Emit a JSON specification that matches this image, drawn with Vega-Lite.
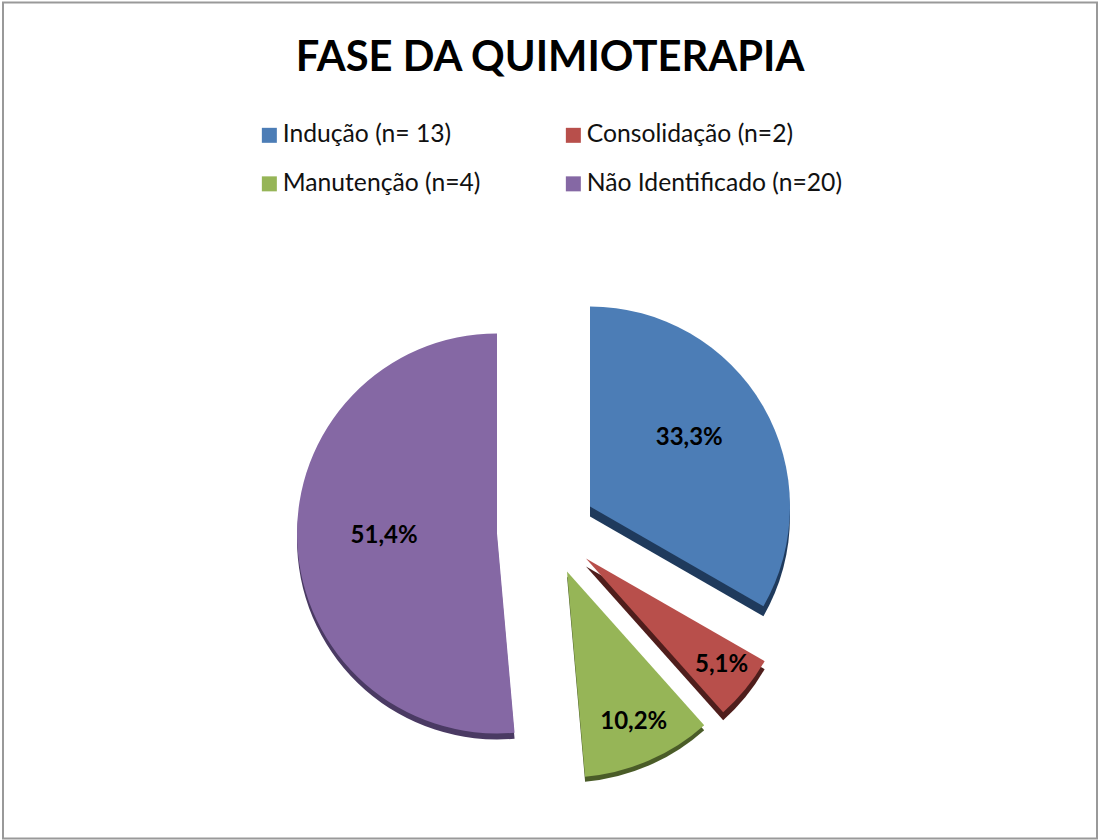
{"$schema":"https://vega.github.io/schema/vega-lite/v6.json","width":1094,"height":836,"autosize":"none","padding":{"left":3,"top":2.5,"right":1,"bottom":1.5},"background":"white","view":{"stroke":"#999999","strokeWidth":2},"config":{"view":{"stroke":"#999999","strokeWidth":2},"font":"Lato"},"title":{"text":"FASE DA QUIMIOTERAPIA","font":"Lato","fontSize":41.7,"fontWeight":"bold","color":"#000000","anchor":"middle","offset":-119,"baseline":"bottom"},"data":{"values":[{"fase":"Indução (n= 13)","pct":33.3,"rotulo":"33,3%"},{"fase":"Consolidação (n=2)","pct":5.1,"rotulo":"5,1%"},{"fase":"Manutenção (n=4)","pct":10.2,"rotulo":"10,2%"},{"fase":"Não Identificado (n=20)","pct":51.4,"rotulo":"51,4%"}]},"transform":[{"window":[{"op":"sum","field":"pct","as":"fim"}],"frame":[null,0]},{"calculate":"datum.fim-datum.pct","as":"inicio"},{"calculate":"(datum.fim+datum.inicio)/2","as":"meio"}],"layer":[{"transform":[{"filter":"datum.pct==33.3"}],"mark":{"type":"arc","radius":200,"xOffset":40,"yOffset":96,"fill":"#1F3A5C"},"encoding":{"theta":{"field":"inicio","type":"quantitative","scale":{"domain":[0,100]}},"theta2":{"field":"fim"}}},{"transform":[{"filter":"datum.pct==5.1"}],"mark":{"type":"arc","radius":206,"xOffset":36,"yOffset":146,"fill":"#4F1E1C"},"encoding":{"theta":{"field":"inicio","type":"quantitative","scale":{"domain":[0,100]}},"theta2":{"field":"fim"}}},{"transform":[{"filter":"datum.pct==10.2"}],"mark":{"type":"arc","radius":206,"xOffset":17,"yOffset":156,"fill":"#4A5C28"},"encoding":{"theta":{"field":"inicio","type":"quantitative","scale":{"domain":[0,100]}},"theta2":{"field":"fim"}}},{"transform":[{"filter":"datum.pct==51.4"}],"mark":{"type":"arc","radius":200,"xOffset":-53,"yOffset":119,"fill":"#4A3A63"},"encoding":{"theta":{"field":"inicio","type":"quantitative","scale":{"domain":[0,100]}},"theta2":{"field":"fim"}}},{"transform":[{"filter":"datum.pct==33.3"}],"mark":{"type":"arc","radius":200,"xOffset":40,"yOffset":86},"encoding":{"theta":{"field":"inicio","type":"quantitative","scale":{"domain":[0,100]}},"theta2":{"field":"fim"},"color":{"field":"fase","type":"nominal","sort":null,"scale":{"domain":["Indução (n= 13)","Consolidação (n=2)","Manutenção (n=4)","Não Identificado (n=20)"],"range":["#4C7DB6","#B84F4B","#96B557","#8568A4"]},"legend":{"title":null,"orient":"none","direction":"horizontal","legendX":254,"legendY":120,"columns":2,"columnPadding":80,"rowPadding":23,"symbolType":"square","symbolSize":225,"symbolStrokeWidth":0,"labelFont":"Lato","labelFontSize":24.7,"labelColor":"#111111","labelOffset":1,"labelLimit":400}}}},{"transform":[{"filter":"datum.pct==5.1"}],"mark":{"type":"arc","radius":206,"xOffset":36,"yOffset":138},"encoding":{"theta":{"field":"inicio","type":"quantitative","scale":{"domain":[0,100]}},"theta2":{"field":"fim"},"color":{"field":"fase","type":"nominal","sort":null,"scale":{"domain":["Indução (n= 13)","Consolidação (n=2)","Manutenção (n=4)","Não Identificado (n=20)"],"range":["#4C7DB6","#B84F4B","#96B557","#8568A4"]},"legend":{"title":null,"orient":"none","direction":"horizontal","legendX":254,"legendY":120,"columns":2,"columnPadding":80,"rowPadding":23,"symbolType":"square","symbolSize":225,"symbolStrokeWidth":0,"labelFont":"Lato","labelFontSize":24.7,"labelColor":"#111111","labelOffset":1,"labelLimit":400}}}},{"transform":[{"filter":"datum.pct==10.2"}],"mark":{"type":"arc","radius":206,"xOffset":17,"yOffset":151},"encoding":{"theta":{"field":"inicio","type":"quantitative","scale":{"domain":[0,100]}},"theta2":{"field":"fim"},"color":{"field":"fase","type":"nominal","sort":null,"scale":{"domain":["Indução (n= 13)","Consolidação (n=2)","Manutenção (n=4)","Não Identificado (n=20)"],"range":["#4C7DB6","#B84F4B","#96B557","#8568A4"]},"legend":{"title":null,"orient":"none","direction":"horizontal","legendX":254,"legendY":120,"columns":2,"columnPadding":80,"rowPadding":23,"symbolType":"square","symbolSize":225,"symbolStrokeWidth":0,"labelFont":"Lato","labelFontSize":24.7,"labelColor":"#111111","labelOffset":1,"labelLimit":400}}}},{"transform":[{"filter":"datum.pct==51.4"}],"mark":{"type":"arc","radius":200,"xOffset":-53,"yOffset":113},"encoding":{"theta":{"field":"inicio","type":"quantitative","scale":{"domain":[0,100]}},"theta2":{"field":"fim"},"color":{"field":"fase","type":"nominal","sort":null,"scale":{"domain":["Indução (n= 13)","Consolidação (n=2)","Manutenção (n=4)","Não Identificado (n=20)"],"range":["#4C7DB6","#B84F4B","#96B557","#8568A4"]},"legend":{"title":null,"orient":"none","direction":"horizontal","legendX":254,"legendY":120,"columns":2,"columnPadding":80,"rowPadding":23,"symbolType":"square","symbolSize":225,"symbolStrokeWidth":0,"labelFont":"Lato","labelFontSize":24.7,"labelColor":"#111111","labelOffset":1,"labelLimit":400}}}},{"transform":[{"filter":"datum.pct==33.3"}],"mark":{"type":"text","radius":117,"xOffset":38,"yOffset":76,"font":"Lato","fontSize":24,"fontWeight":"bold","color":"#000000"},"encoding":{"theta":{"field":"meio","type":"quantitative","scale":{"domain":[0,100]}},"text":{"field":"rotulo","type":"nominal"}}},{"transform":[{"filter":"datum.pct==5.1"}],"mark":{"type":"text","radius":172,"xOffset":38,"yOffset":136,"font":"Lato","fontSize":24,"fontWeight":"bold","color":"#000000"},"encoding":{"theta":{"field":"meio","type":"quantitative","scale":{"domain":[0,100]}},"text":{"field":"rotulo","type":"nominal"}}},{"transform":[{"filter":"datum.pct==10.2"}],"mark":{"type":"text","radius":163,"xOffset":19,"yOffset":152,"font":"Lato","fontSize":24,"fontWeight":"bold","color":"#000000"},"encoding":{"theta":{"field":"meio","type":"quantitative","scale":{"domain":[0,100]}},"text":{"field":"rotulo","type":"nominal"}}},{"transform":[{"filter":"datum.pct==51.4"}],"mark":{"type":"text","radius":113,"xOffset":-53,"yOffset":111,"font":"Lato","fontSize":24,"fontWeight":"bold","color":"#000000"},"encoding":{"theta":{"field":"meio","type":"quantitative","scale":{"domain":[0,100]}},"text":{"field":"rotulo","type":"nominal"}}}]}
